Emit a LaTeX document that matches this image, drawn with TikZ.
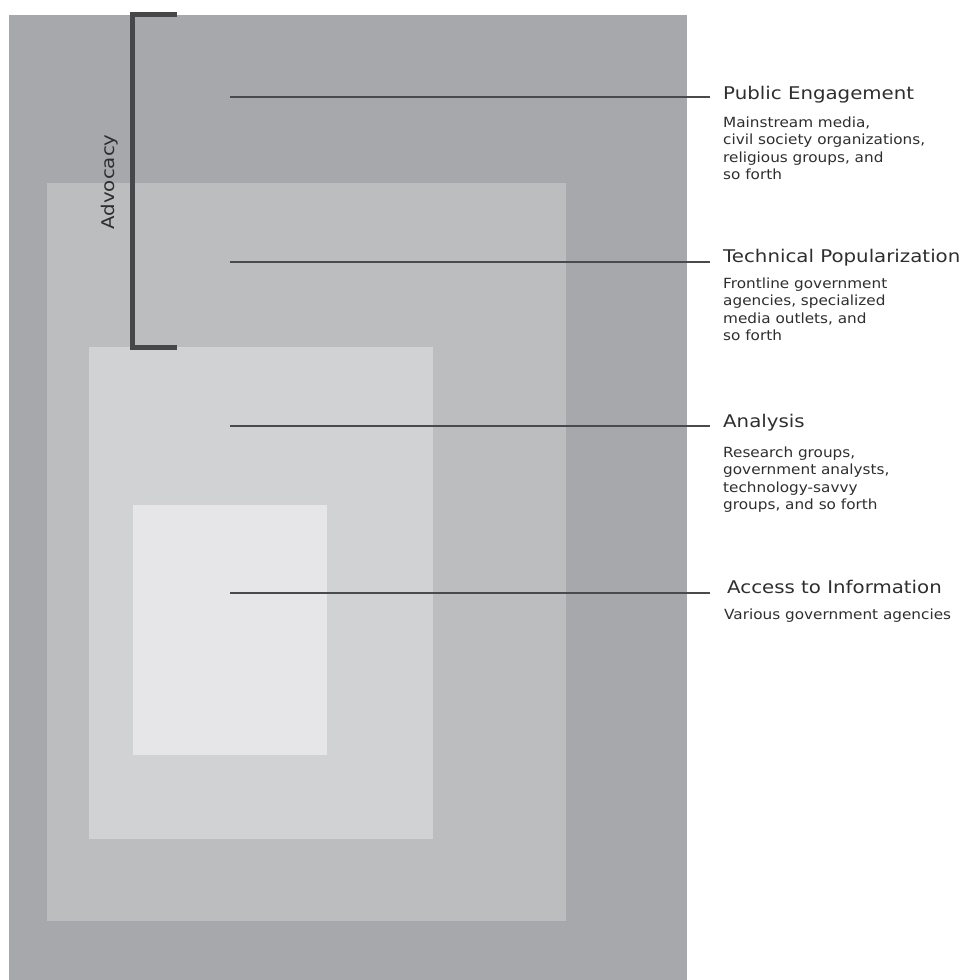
\documentclass[tikz,border=0pt]{standalone}
\usepackage{fontspec}
\setmainfont{DejaVu Sans}
\newfontfamily\titlefont[FakeStretch=1.13]{DejaVu Sans}
\newfontfamily\bodyfont[FakeStretch=1.09]{DejaVu Sans}
\definecolor{tierA}{HTML}{A7A8AB}
\definecolor{tierB}{HTML}{BCBDBF}
\definecolor{tierC}{HTML}{D1D2D4}
\definecolor{tierD}{HTML}{E6E6E8}
\definecolor{ink}{HTML}{2E2E2E}
\definecolor{bracketgray}{HTML}{47474A}
\definecolor{leadergray}{HTML}{4A4A4A}
\newcommand{\bodylines}[1]{\begin{tabular}[t]{@{}l@{}}#1\end{tabular}}
\tikzset{
  leader/.style={draw=leadergray, line width=1.8pt},
  tiertitle/.style={anchor=base west, inner sep=0pt, text=ink, font=\titlefont\fontsize{17.5}{21}\selectfont},
  tierbody/.style={anchor=base west, inner sep=0pt, text=ink, font=\bodyfont\fontsize{14}{17.6}\selectfont},
}
\begin{document}
\begin{tikzpicture}[x=1pt, y=-1pt]
  \useasboundingbox (0,0) rectangle (963,980);
  % nested tiers
  \fill[tierA] (9,15) rectangle (687,980);
  \fill[tierB] (47,183) rectangle (566,921);
  \fill[tierC] (89,347) rectangle (433,839);
  \fill[tierD] (133,505) rectangle (327,755);
  % advocacy bracket
  \draw[bracketgray, line width=5pt, line join=miter]
    (177,14.5) -- (132.5,14.5) -- (132.5,347) -- (177,347);
  \node[rotate=90, text=ink, inner sep=0pt, font=\titlefont\fontsize{17.5}{21}\selectfont] (advocacy) at (110,182) {Advocacy};
  % leader end points
  \coordinate (pe-a) at (230,97);   \coordinate (pe-b) at (710,97);
  \coordinate (tp-a) at (230,262);  \coordinate (tp-b) at (710,262);
  \coordinate (an-a) at (230,426);  \coordinate (an-b) at (710,426);
  \coordinate (ai-a) at (230,593);  \coordinate (ai-b) at (710,593);
  \draw[leader] (pe-a) -- (pe-b);
  \draw[leader] (tp-a) -- (tp-b);
  \draw[leader] (an-a) -- (an-b);
  \draw[leader] (ai-a) -- (ai-b);
  % labels
  \node[tiertitle] (pe-title) at (723,99) {Public Engagement};
  \node[tierbody] (pe-body) at (723,127) {\bodylines{Mainstream media,\\civil society organizations,\\religious groups, and\\so forth}};
  \node[tiertitle] (tp-title) at (723,262) {Technical Popularization};
  \node[tierbody] (tp-body) at (723,288) {\bodylines{Frontline government\\agencies, specialized\\media outlets, and\\so forth}};
  \node[tiertitle] (an-title) at (723,427) {Analysis};
  \node[tierbody] (an-body) at (723,457) {\bodylines{Research groups,\\government analysts,\\technology-savvy\\groups, and so forth}};
  \node[tiertitle] (ai-title) at (727,593) {Access to Information};
  \node[tierbody] (ai-body) at (724,619) {Various government agencies};
\end{tikzpicture}
\end{document}
